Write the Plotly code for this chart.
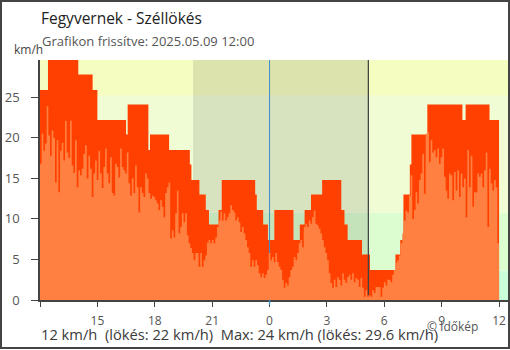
import plotly.graph_objects as go
import pandas as pd

# ---------------- data ----------------
start = pd.Timestamp("2025-05-08 12:00")
end = pd.Timestamp("2025-05-09 12:00")
axis_end = pd.Timestamp("2025-05-09 12:28")
night_start = pd.Timestamp("2025-05-08 20:00")
night_end = pd.Timestamp("2025-05-09 05:10")
midnight = pd.Timestamp("2025-05-09 00:00")

# gust (km/h) step changes
gust_times = ["12:00", "12:25", "14:00", "14:45", "15:00", "16:30", "16:35", "17:40", "17:45",
              "18:45", "19:50", "19:55", "20:20", "20:40", "20:50", "21:20", "21:30", "23:15",
              "23:20", "23:40", "23:55", "00:15", "01:15", "01:35", "01:50", "02:10", "02:45",
              "03:45", "03:55", "04:05", "04:50", "05:15", "06:35", "06:50", "07:00", "07:20",
              "07:25", "08:15", "10:05", "10:15", "11:30"]
gust_kmh = [25.9, 29.6, 27.8, 25.9, 22.2, 20.4, 24.1, 18.5, 20.4,
            18.5, 16.7, 14.8, 13.0, 11.1, 9.3, 11.1, 14.8, 13.0,
            11.1, 9.3, 7.4, 11.1, 7.4, 9.3, 11.1, 13.0, 14.8,
            11.1, 9.3, 7.4, 5.6, 3.7, 5.6, 7.4, 13.0, 16.7,
            20.4, 24.1, 22.2, 24.1, 22.2]

# wind speed (km/h), consecutive readings
wind_afternoon = [16.8, 20.5, 18.4, 19.3, 23.9, 20.3, 17.8, 20.9, 20.0, 14.5,
                  19.7, 13.3, 18.4, 19.4, 17.2, 22.1, 18.2, 17.5, 22.1, 16.6,
                  15.7, 19.7, 13.9, 16.0, 15.4, 16.2, 18.0, 19.1, 15.0, 17.8,
                  16.2, 12.7, 15.6, 17.2, 14.8, 18.4, 15.6, 13.8, 16.4, 18.7,
                  15.6, 14.4, 17.6, 13.2, 12.9, 16.8, 16.4, 15.1, 18.7, 16.4,
                  16.0, 15.6, 18.2, 14.4, 12.9, 15.0, 13.2, 16.6, 13.9, 10.8,
                  13.9, 13.2, 12.7, 15.6, 15.0, 13.2, 12.5, 12.9, 12.7, 12.3,
                  11.9, 11.1, 12.3, 11.5, 10.2, 13.2, 13.9, 14.5, 7.6, 8.6,
                  7.7, 10.7, 13.5, 8.2, 9.0, 10.7, 9.6, 10.7, 8.0, 7.0,
                  6.4, 5.8, 4.9, 5.8, 5.8]
wind_night = [4.1, 5.8, 4.1, 4.9, 5.5, 7.1, 7.4, 7.0, 7.4, 7.0,
              7.7, 9.0, 9.8, 10.9, 9.8, 10.7, 9.8, 10.2, 10.7, 11.7,
              11.1, 10.8, 9.8, 10.2, 9.6, 8.4, 9.0, 8.2, 7.4, 6.5,
              5.8, 4.1, 4.9, 4.1, 4.9, 4.3, 3.3, 2.8, 3.3, 2.7,
              3.1, 3.7, 5.8, 4.9, 5.3, 4.7, 5.8, 4.7, 4.1, 3.7,
              2.5, 1.5, 2.1, 1.8, 2.8, 3.7, 4.1, 5.3, 4.9, 5.8,
              7.0, 7.4, 6.5, 9.0, 9.4, 9.0, 9.8, 9.4, 10.2, 11.0,
              9.4, 9.2, 8.8, 8.2, 7.4, 6.5, 5.8, 4.9, 3.3, 2.1,
              1.5, 2.5, 1.6, 2.8, 2.5, 1.8, 3.3, 2.5, 2.1, 2.8,
              3.1, 2.5, 3.3, 2.2, 2.7, 2.5, 1.6, 2.7, 1.5, 0.4,
              1.2, 0.4, 0.6, 0.4, 1.2, 0.9, 1.6, 1.6]
wind_morning = [1.6, 0.4, 1.5, 2.2, 1.8, 2.5, 2.5, 2.2, 3.1, 3.7,
                4.6, 4.9, 5.5, 7.0, 8.2, 9.8, 11.0, 10.8,
                12.9, 15.4, 10.0, 11.1, 13.3, 11.9, 14.8, 15.6, 18.0, 13.1,
                20.5, 20.7, 17.0, 19.7, 18.2, 18.5, 17.6, 18.7, 16.8, 17.6,
                18.7, 15.2, 13.5, 12.5, 15.6, 15.4, 12.3, 15.8, 13.5, 16.0,
                12.7, 15.6, 13.9, 15.0, 10.2, 18.5, 13.9, 17.8, 11.5, 13.3,
                13.3, 15.6, 15.2, 15.6, 13.9, 16.0, 18.2, 9.0, 16.2, 14.4,
                13.5, 14.8, 13.9, 7.0]

y_ticks = [0, 5, 10, 15, 20, 25]
x_tick_labels = ["", "15", "18", "21", "0", "3", "6", "9", "12"]
band_edges = [0, 3.6, 10.8, 25.2, 29.6]
band_colors = ["#c9fdd9", "#dcfdd0", "#f0fdd4", "#f5fdc0"]
y_max = 29.6

title = "Fegyvernek - Széllökés"
subtitle = "Grafikon frissítve: 2025.05.09 12:00"
summary = "12 km/h  (lökés: 22 km/h)  Max: 24 km/h (lökés: 29.6 km/h)"
credit = "© Időkép"

# ---------------- build ----------------
def to_ts(hhmm):
    h, m = map(int, hhmm.split(":"))
    day = "2025-05-08" if h >= 12 else "2025-05-09"
    return pd.Timestamp(f"{day} {hhmm}")

gx = [to_ts(t) for t in gust_times] + [end]
gy = gust_kmh + [gust_kmh[-1]]

wind = wind_afternoon + wind_night + wind_morning
n = len(wind)
wx = [start + (end - start) * i / n for i in range(n)] + [end]
wy = wind + [wind[-1]]

W, H = 510, 350
ML, MR, MT, MB = 40, 2, 60, 50
PW, PH = W - ML - MR, H - MT - MB

def px(x):
    return (x - ML) / PW

def py(y):
    return (H - MB - y) / PH

fig = go.Figure()
fig.add_trace(go.Scatter(x=gx, y=gy, mode="lines", line=dict(width=0, shape="hv"),
                         fill="tozeroy", fillcolor="#ff4000", hoverinfo="skip", showlegend=False))
fig.add_trace(go.Scatter(x=[midnight, midnight], y=[0, y_max], mode="lines",
                         line=dict(color="#3b8fcf", width=1), hoverinfo="skip", showlegend=False))
fig.add_trace(go.Scatter(x=wx, y=wy, mode="lines", line=dict(width=0, shape="hv"),
                         fill="tozeroy", fillcolor="#ff8040", hoverinfo="skip", showlegend=False))
fig.add_trace(go.Scatter(x=[night_end, night_end], y=[0.6, y_max], mode="lines",
                         line=dict(color="#444444", width=1.3), hoverinfo="skip", showlegend=False))

shapes = []
for i, c in enumerate(band_colors):
    shapes.append(dict(type="rect", xref="paper", yref="y", x0=0, x1=1,
                       y0=band_edges[i], y1=band_edges[i + 1],
                       fillcolor=c, line=dict(width=0), layer="below"))
shapes.append(dict(type="rect", xref="x", yref="paper", x0=night_start, x1=night_end,
                   y0=0, y1=1, fillcolor="rgba(0,0,0,0.10)", line=dict(width=0), layer="below"))
shapes.append(dict(type="line", xref="x", yref="paper", x0=midnight, x1=midnight,
                   y0=-5 / PH, y1=0, line=dict(color="#3b8fcf", width=1.3), layer="above"))
shapes.append(dict(type="rect", xref="paper", yref="paper",
                   x0=px(1), x1=px(509), y0=py(348), y1=py(1),
                   line=dict(color="#444444", width=2), fillcolor="rgba(0,0,0,0)", layer="above"))

font = "Open Sans"
annotations = [
    dict(text=title, x=px(39), y=py(18), xref="paper", yref="paper", xanchor="left", yanchor="middle",
         showarrow=False, font=dict(family=font, size=15.5, color="#222222")),
    dict(text=subtitle, x=px(40), y=py(41), xref="paper", yref="paper", xanchor="left", yanchor="middle",
         showarrow=False, font=dict(family=font, size=13, color="#555555")),
    dict(text="km/h", x=px(12), y=py(50), xref="paper", yref="paper", xanchor="left", yanchor="middle",
         showarrow=False, font=dict(family=font, size=12, color="#444444")),
    dict(text=summary, x=px(39), y=py(334), xref="paper", yref="paper", xanchor="left", yanchor="middle",
         showarrow=False, font=dict(family=font, size=14.7, color="#3a3a3a")),
    dict(text=credit, x=px(425), y=py(326), xref="paper", yref="paper", xanchor="left", yanchor="middle",
         showarrow=False, font=dict(family=font, size=12, color="#555555")),
]

tickvals_x = [start + pd.Timedelta(hours=3 * k) for k in range(len(x_tick_labels))]

fig.update_layout(
    width=W, height=H, margin=dict(l=ML, r=MR, t=MT, b=MB),
    paper_bgcolor="white", plot_bgcolor="white",
    font=dict(family=font, color="#555555"),
    shapes=shapes, annotations=annotations,
    xaxis=dict(type="date", range=[start, axis_end], tickvals=tickvals_x, ticktext=x_tick_labels,
               ticks="outside", ticklen=5, tickcolor="#444444", tickwidth=1.3,
               showline=True, linecolor="#444444", linewidth=1.5, ticklabelstandoff=4,
               showgrid=False, zeroline=False, tickfont=dict(size=12, color="#555555")),
    yaxis=dict(range=[0, y_max], tickvals=y_ticks, ticks="outside", ticklen=7,
               tickcolor="#444444", tickwidth=1.3, showline=True, linecolor="#444444", linewidth=1.5,
               showgrid=False, zeroline=False, ticklabelstandoff=9,
               tickfont=dict(size=13, color="#555555")),
)

fig.write_html("out.html", config={"displayModeBar": False})
